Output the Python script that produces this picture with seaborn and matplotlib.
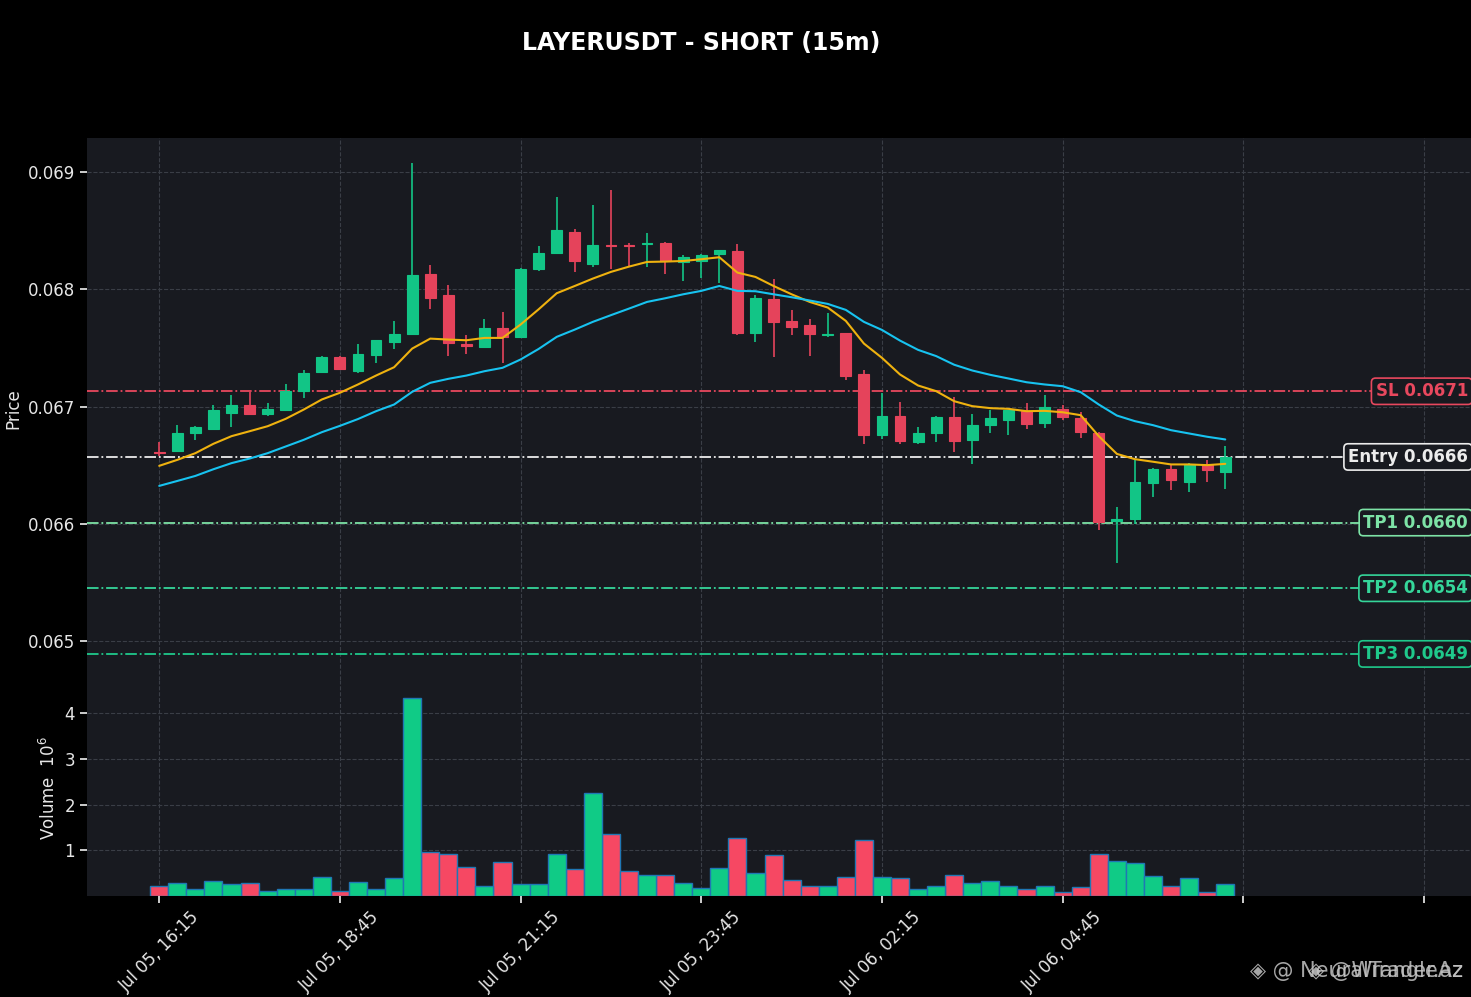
import numpy as np
import pandas as pd
import matplotlib
matplotlib.use("Agg")
import matplotlib.pyplot as plt
import seaborn as sns

#                               DATA (15m candles)
opens = [0.066610, 0.066619, 0.066778, 0.066812, 0.066943, 0.067014, 0.066932, 0.066966, 0.067128, 0.067298,
         0.067418, 0.067304, 0.067443, 0.067554, 0.067622, 0.068128, 0.067949, 0.067535, 0.067509, 0.067673,
         0.067593, 0.068173, 0.068309, 0.068492, 0.068213, 0.068375, 0.068378, 0.068390, 0.068392, 0.068235,
         0.068241, 0.068298, 0.068324, 0.067625, 0.067915, 0.067727, 0.067693, 0.067610, 0.067625, 0.067273,
         0.066755, 0.066923, 0.066696, 0.066770, 0.066912, 0.066713, 0.066841, 0.066889, 0.066960, 0.066858,
         0.066983, 0.066906, 0.066778, 0.066026, 0.066042, 0.066345, 0.066463, 0.066357, 0.066500, 0.066443]
highs = [0.066696, 0.066844, 0.066832, 0.067014, 0.067100, 0.067125, 0.067032, 0.067194, 0.067315, 0.067429,
         0.067432, 0.067537, 0.067570, 0.067733, 0.069074, 0.068205, 0.068034, 0.067609, 0.067750, 0.067810,
         0.068180, 0.068373, 0.068790, 0.068512, 0.068716, 0.068847, 0.068398, 0.068483, 0.068400, 0.068296,
         0.068300, 0.068336, 0.068390, 0.067955, 0.068091, 0.067824, 0.067750, 0.067801, 0.067630, 0.067309,
         0.067117, 0.067037, 0.066827, 0.066915, 0.067083, 0.066940, 0.066968, 0.066972, 0.067032, 0.067100,
         0.067009, 0.066955, 0.066780, 0.066142, 0.066548, 0.066475, 0.066506, 0.066520, 0.066548, 0.066665]
lows = [0.066575, 0.066610, 0.066713, 0.066805, 0.066827, 0.066925, 0.066917, 0.066960, 0.067071, 0.067290,
        0.067318, 0.067290, 0.067370, 0.067491, 0.067615, 0.067835, 0.067429, 0.067450, 0.067500, 0.067375,
        0.067590, 0.068159, 0.068300, 0.068151, 0.068193, 0.068176, 0.068199, 0.068190, 0.068134, 0.068071,
        0.068094, 0.068057, 0.067610, 0.067546, 0.067424, 0.067614, 0.067429, 0.067597, 0.067224, 0.066682,
        0.066727, 0.066676, 0.066682, 0.066699, 0.066614, 0.066506, 0.066770, 0.066761, 0.066804, 0.066815,
        0.066889, 0.066733, 0.065951, 0.065665, 0.066002, 0.066229, 0.066286, 0.066269, 0.066360, 0.066295]
closes = [0.066600, 0.066776, 0.066821, 0.066966, 0.067009, 0.066932, 0.066980, 0.067134, 0.067290, 0.067418,
          0.067324, 0.067451, 0.067563, 0.067622, 0.068119, 0.067923, 0.067542, 0.067518, 0.067673, 0.067593,
          0.068176, 0.068313, 0.068503, 0.068241, 0.068375, 0.068366, 0.068372, 0.068398, 0.068241, 0.068273,
          0.068296, 0.068332, 0.067625, 0.067923, 0.067722, 0.067679, 0.067619, 0.067622, 0.067263, 0.066761,
          0.066923, 0.066704, 0.066776, 0.066912, 0.066704, 0.066844, 0.066904, 0.066968, 0.066855, 0.067000,
          0.066909, 0.066781, 0.066013, 0.066037, 0.066355, 0.066471, 0.066372, 0.066506, 0.066455, 0.066568]
volumes = [210000, 280000, 160000, 320000, 260000, 280000, 100000, 160000, 150000, 410000,
           120000, 300000, 160000, 390000, 4330000, 960000, 930000, 630000, 230000, 740000,
           260000, 260000, 910000, 600000, 2250000, 1350000, 550000, 450000, 470000, 280000,
           170000, 610000, 1280000, 500000, 890000, 360000, 230000, 230000, 410000, 1220000,
           410000, 390000, 150000, 210000, 470000, 280000, 320000, 210000, 150000, 210000,
           80000, 190000, 910000, 760000, 720000, 430000, 210000, 390000, 80000, 260000]
ema_fast = [0.066494, 0.066545, 0.066602, 0.066682, 0.066747, 0.066789, 0.066832, 0.066895, 0.066974, 0.067060,
            0.067117, 0.067188, 0.067264, 0.067335, 0.067494, 0.067579, 0.067571, 0.067565, 0.067585, 0.067585,
            0.067699, 0.067829, 0.067966, 0.068028, 0.068091, 0.068148, 0.068193, 0.068233, 0.068236, 0.068241,
            0.068256, 0.068273, 0.068142, 0.068105, 0.068028, 0.067957, 0.067892, 0.067844, 0.067730, 0.067537,
            0.067415, 0.067273, 0.067179, 0.067131, 0.067045, 0.067003, 0.066986, 0.066980, 0.066960, 0.066963,
            0.066951, 0.066926, 0.066747, 0.066596, 0.066551, 0.066529, 0.066506, 0.066506, 0.066500, 0.066511]
ema_slow = [0.066323, 0.066365, 0.066408, 0.066465, 0.066517, 0.066556, 0.066602, 0.066659, 0.066716, 0.066781,
            0.066835, 0.066893, 0.066960, 0.067017, 0.067125, 0.067202, 0.067236, 0.067264, 0.067301, 0.067330,
            0.067401, 0.067491, 0.067594, 0.067656, 0.067722, 0.067779, 0.067835, 0.067892, 0.067923, 0.067957,
            0.067986, 0.068028, 0.067986, 0.067983, 0.067957, 0.067932, 0.067904, 0.067875, 0.067824, 0.067722,
            0.067653, 0.067562, 0.067483, 0.067430, 0.067356, 0.067307, 0.067270, 0.067239, 0.067207, 0.067188,
            0.067173, 0.067122, 0.067017, 0.066923, 0.066875, 0.066841, 0.066798, 0.066770, 0.066742, 0.066719]

tick_pos = [0, 10, 20, 30, 40, 50, 60, 70]
tick_labels = ["Jul 05, 16:15", "Jul 05, 18:45", "Jul 05, 21:15", "Jul 05, 23:45",
               "Jul 06, 02:15", "Jul 06, 04:45", "", ""]

levels = [0.06713, 0.06657, 0.06601, 0.06545, 0.06489]
level_names = ["SL 0.0671", "Entry 0.0666", "TP1 0.0660", "TP2 0.0654", "TP3 0.0649"]
level_colors = ["#e8485e", "#ececec", "#7de3a6", "#35d69a", "#1fc98b"]

#                               STYLE
BG = "#181a20"
UP, DOWN = "#12c586", "#e5435b"
VUP, VDOWN = "#10cb86", "#f64863"
TXT = "#e6e6e6"
FS = 12

sns.set_theme(style="darkgrid", rc={
    "axes.facecolor": BG, "figure.facecolor": "black",
    "grid.color": "#3a3e46", "grid.linestyle": "--", "grid.linewidth": 0.8,
    "xtick.bottom": True, "ytick.left": True,
    "xtick.color": TXT, "ytick.color": TXT, "axes.labelcolor": TXT,
    "xtick.major.size": 5, "ytick.major.size": 5,
})
plt.rcParams["font.family"] = ["DejaVu Sans"]

df = pd.DataFrame({"open": opens, "high": highs, "low": lows, "close": closes,
                   "volume": volumes, "ema_fast": ema_fast, "ema_slow": ema_slow})
df["idx"] = np.arange(len(df))
df["dir"] = np.where(df["close"] >= df["open"], "up", "down")
cols = df["dir"].map({"up": UP, "down": DOWN}).tolist()

fig = plt.figure(figsize=(14.71, 9.97), dpi=100, facecolor="black")
ax = fig.add_axes([0.0591, 0.318, 0.9409, 0.5436])
axv = fig.add_axes([0.0591, 0.1013, 0.9409, 0.2166])

#                               CANDLES
ax.vlines(df["idx"], df["low"], df["high"], colors=cols, linewidth=1.2, zorder=2)
body_lo = np.minimum(df["open"], df["close"])
body_h = (df["close"] - df["open"]).abs()
ax.bar(df["idx"], body_h, bottom=body_lo, width=0.6, color=cols, edgecolor=cols,
       linewidth=0.8, zorder=3)

sns.lineplot(data=df, x="idx", y="ema_fast", ax=ax, color="#efb20f", linewidth=1.5, zorder=4)
sns.lineplot(data=df, x="idx", y="ema_slow", ax=ax, color="#17c3f0", linewidth=1.5, zorder=4)

# entry / stop / targets
for lvl, name, c in zip(levels, level_names, level_colors):
    ax.axhline(lvl, color=c, linestyle="-.", linewidth=1.3, zorder=1)
    ax.text(0.9978, lvl, name, transform=ax.get_yaxis_transform(), ha="right", va="center",
            color=c, fontsize=12, fontweight="bold", zorder=6,
            bbox=dict(boxstyle="round,pad=0.25", fc=BG, ec=c, lw=1.2))

ax.set_ylim(0.064668, 0.06929)
ax.set_yticks([0.065, 0.066, 0.067, 0.068, 0.069])
ax.set_yticklabels(["%.3f" % v for v in [0.065, 0.066, 0.067, 0.068, 0.069]], fontsize=FS)
ax.set_ylabel("Price", fontsize=FS)
ax.set_xlabel("")
ax.set_xlim(-4, 72.6)
ax.set_xticks(tick_pos)
ax.tick_params(axis="x", labelbottom=False, bottom=False)

#                               VOLUME
sns.barplot(data=df, x="idx", y="volume", hue="dir", palette={"up": VUP, "down": VDOWN},
            native_scale=True, width=1.0, dodge=False, legend=False, saturation=1,
            errorbar=None, edgecolor="#1f77b4", linewidth=1.0, ax=axv)
axv.set_xlim(-4, 72.6)
axv.set_ylim(0, 4.73e6)
axv.set_yticks([1e6, 2e6, 3e6, 4e6])
axv.set_yticklabels(["1", "2", "3", "4"], fontsize=FS)
axv.set_ylabel("Volume  $10^{6}$", fontsize=FS)
axv.set_xlabel("")
axv.set_xticks(tick_pos)
axv.set_xticklabels(tick_labels, rotation=45, ha="center", fontsize=FS)

for a in (ax, axv):
    for s in a.spines.values():
        s.set_visible(False)
    a.grid(True)

fig.text(0.4766, 0.957, "LAYERUSDT - SHORT (15m)", ha="center", va="center",
         color="white", fontsize=17, fontweight="bold")
# two stacked watermarks, as in the source image
fig.text(0.9946, 0.026, "\u25c8 @ NeuralTrader.az", ha="right", va="center",
         color="#c4c4c4", fontsize=15, alpha=0.85)
fig.text(0.9946, 0.026, "\u25c8 @WrangleAz", ha="right", va="center",
         color="#c4c4c4", fontsize=15, alpha=0.85)

fig.savefig("out.png", dpi=100, facecolor="black")
